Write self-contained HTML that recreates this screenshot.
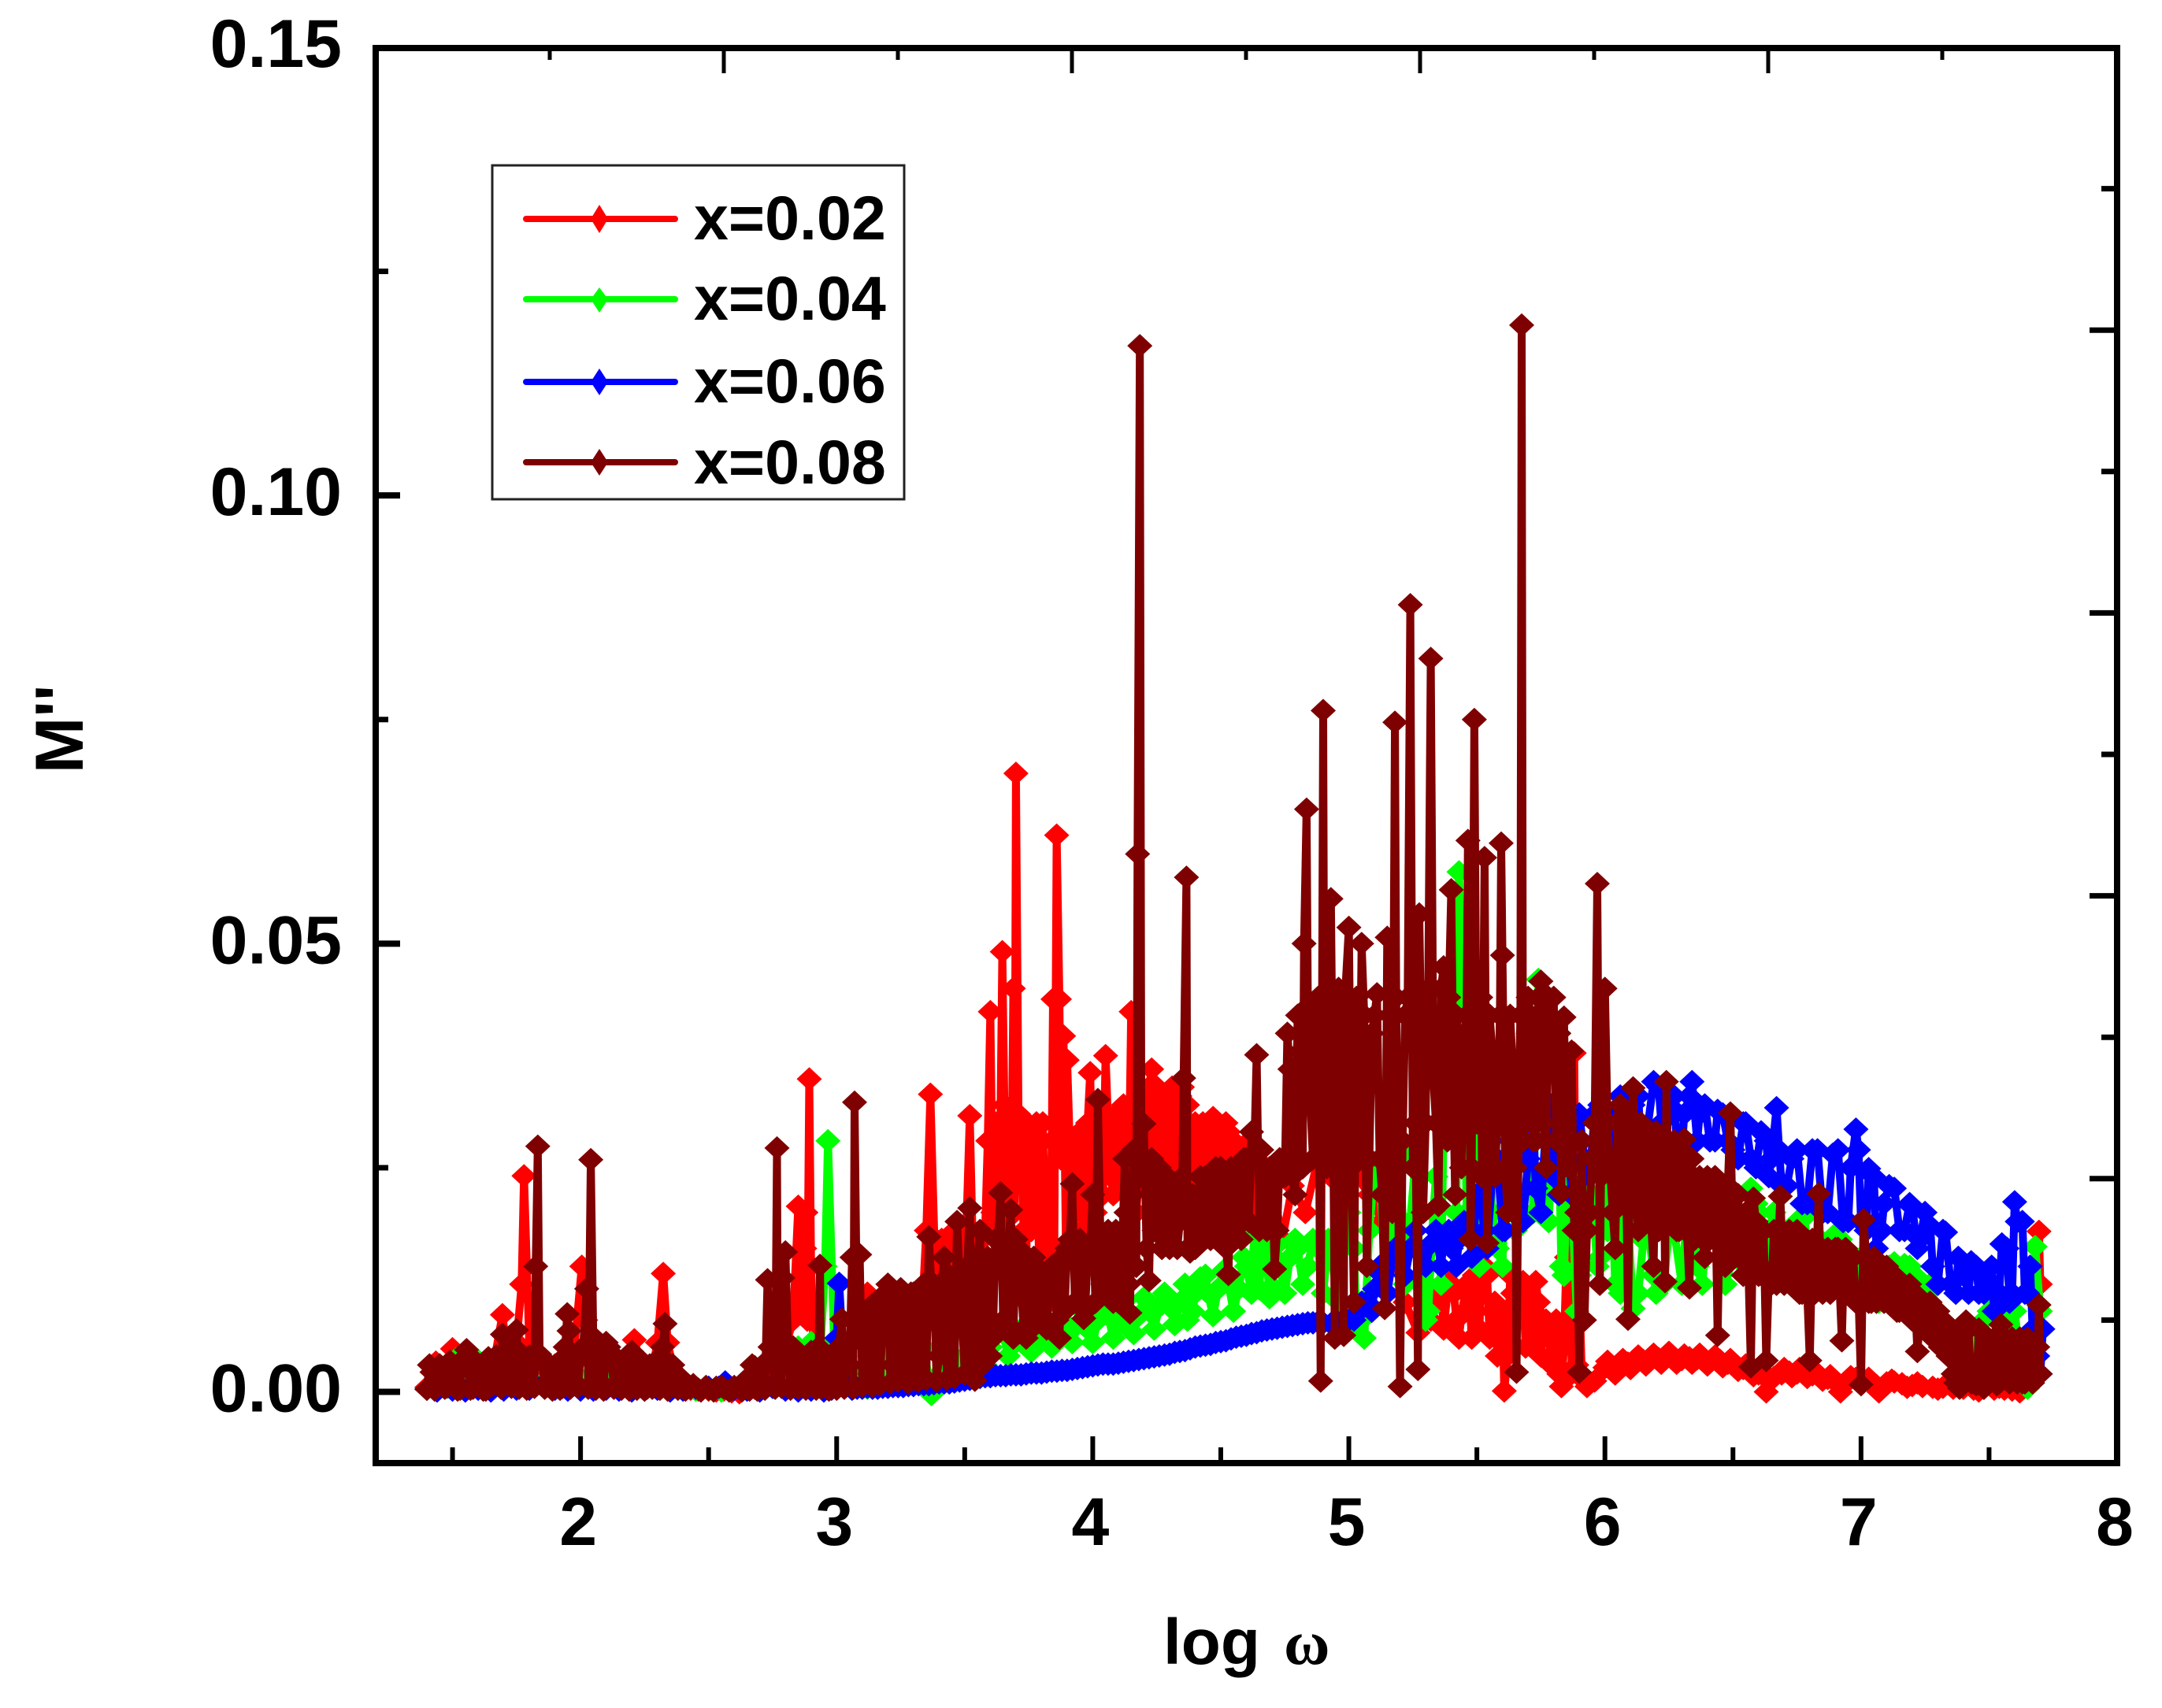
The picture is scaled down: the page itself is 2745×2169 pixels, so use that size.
<!DOCTYPE html>
<html>
<head>
<meta charset="utf-8">
<title>M'' vs log omega</title>
<style>
html,body{margin:0;padding:0;background:#fff;}
svg{display:block;}
text{font-family:"Liberation Sans",sans-serif;font-weight:bold;fill:#000;}
</style>
</head>
<body>
<svg id="chart" xmlns="http://www.w3.org/2000/svg" width="2745" height="2169" viewBox="0 0 2745 2169">
  <rect x="0" y="0" width="2745" height="2169" fill="#fff"/>
  <g id="series-layer"></g>
  <g id="axes-layer"></g>
  <text x="1477" y="2113" font-size="82">log<tspan x="1630" style="font-family:'Liberation Serif',serif" font-size="80">ω</tspan></text>
  <text transform="translate(105,926) rotate(-90)" text-anchor="middle" font-size="86">M''</text>
  <g>
    <rect x="625" y="210" width="523" height="424" fill="#fff" stroke="#222" stroke-width="3"/>
    <g>
      <line x1="668" x2="857" y1="278" y2="278" stroke="#ff0000" stroke-width="8" stroke-linecap="round"/>
      <polygon points="761,260 772,278 761,296 750,278" fill="#ff0000"/>
      <text x="881" y="304" font-size="79">x=0.02</text>
    </g>
    <g>
      <line x1="668" x2="857" y1="380" y2="380" stroke="#00ff00" stroke-width="8" stroke-linecap="round"/>
      <polygon points="761,365 772,380 761,397 750,380" fill="#00ff00"/>
      <text x="881" y="406" font-size="79">x=0.04</text>
    </g>
    <g>
      <line x1="668" x2="857" y1="485" y2="485" stroke="#0000ff" stroke-width="8" stroke-linecap="round"/>
      <polygon points="761,468 772,485 761,502 750,485" fill="#0000ff"/>
      <text x="881" y="511" font-size="79">x=0.06</text>
    </g>
    <g>
      <line x1="668" x2="857" y1="587" y2="587" stroke="#7f0000" stroke-width="8" stroke-linecap="round"/>
      <polygon points="761,570 772,587 761,604 750,587" fill="#7f0000"/>
      <text x="881" y="614" font-size="79">x=0.08</text>
    </g>
  </g>
</svg>
<script>
// Each point: [log omega, M'' in units of 10^-3]. Peaks and troughs.
const seriesX002 = [[1.40,.5],[1.435,3.3],[1.46,.8],[1.50,4.8],[1.53,1.5],[1.57,.5],[1.60,2.5],[1.63,.8],[1.66,3],[1.695,8.6],[1.72,2.5],[1.75,5.5],[1.77,12],[1.779,24.1],[1.80,5],[1.83,2],[1.87,1],[1.90,3],[1.94,1.5],[1.97,3],[2.005,14],[2.02,8],[2.05,5],[2.08,1.5],[2.11,3],[2.14,.8],[2.18,2],[2.21,5.8],[2.24,2.5],[2.27,.8],[2.30,5.5],[2.323,13.2],[2.34,5.5],[2.37,1.5],[2.40,.5],[2.43,.3],[2.46,.2],[2.50,.2],[2.53,.1],[2.56,.2],[2.59,0],[2.62,-.1],[2.65,.3],[2.68,.4],[2.71,1],[2.74,.8],[2.77,3],[2.80,5],[2.83,8],[2.85,20.7],[2.87,10],[2.88,20],[2.893,34.9],[2.91,4],[2.94,2],[2.97,1],[3.0,3],[3.03,2],[3.07,1],[3.10,2],[3.12,11],[3.13,4],[3.15,9],[3.17,3],[3.2,5],[3.25,10],[3.3,9],[3.33,7],[3.35,18],[3.366,33.2],[3.39,8],[3.42,16],[3.45,12],[3.48,18],[3.52,30.8],[3.54,12],[3.57,9],[3.59,28],[3.60,42.4],[3.62,14],[3.63,30],[3.647,49.1],[3.66,30],[3.68,20],[3.69,45],[3.70,69],[3.72,28],[3.74,10],[3.75,25],[3.77,29.5],[3.79,15],[3.81,24],[3.83,10],[3.845,43.8],[3.859,62.1],[3.87,43.8],[3.886,39.7],[3.90,37],[3.92,15],[3.94,28],[3.96,18],[3.99,35.6],[4.01,20],[4.03,25],[4.05,37.5],[4.07,24],[4.1,30],[4.13,22],[4.15,42.4],[4.17,20],[4.2,32],[4.23,36],[4.26,22],[4.29,33],[4.32,32],[4.35,34],[4.38,28],[4.41,22],[4.44,27],[4.47,30.6],[4.5,27],[4.53,29],[4.57,26],[4.61,28],[4.65,20.4],[4.69,25],[4.74,17],[4.78,23],[4.83,20],[4.88,26],[4.93,24],[4.98,27],[5.03,24],[5.08,22],[5.13,19],[5.18,15],[5.22,10],[5.27,6.6],[5.3,11],[5.34,10],[5.39,12.3],[5.42,8],[5.44,8.6],[5.47,11],[5.52,15.7],[5.54,13],[5.56,9],[5.59,7],[5.607,.1],[5.63,13],[5.66,11],[5.68,12.3],[5.71,10],[5.73,12.3],[5.76,8],[5.78,6.3],[5.81,8],[5.83,.6],[5.85,15],[5.86,37.4],[5.88,37.8],[5.9,12],[5.93,.6],[5.96,1.2],[6.0,2.7],[6.03,2.5],[6.06,3],[6.09,3.2],[6.12,3.4],[6.15,3.5],[6.18,3.6],[6.21,3.7],[6.24,3.9],[6.27,3.7],[6.3,3.6],[6.33,3.8],[6.36,3.7],[6.39,3.5],[6.42,3.7],[6.45,3.5],[6.48,3.2],[6.51,3],[6.54,2.6],[6.57,2.3],[6.6,2],[6.63,0],[6.66,1.6],[6.69,2],[6.72,2.2],[6.75,2.1],[6.78,2.1],[6.81,1.9],[6.84,1.7],[6.87,1.5],[6.92,0],[6.95,1.2],[6.98,1.5],[7.01,1.2],[7.04,1],[7.07,0],[7.1,1],[7.13,1.1],[7.16,.9],[7.2,.7],[7.24,.6],[7.28,.5],[7.32,.5],[7.36,.4],[7.4,.4],[7.44,.3],[7.48,.4],[7.52,.3],[7.56,.3],[7.59,.2],[7.62,0],[7.65,1],[7.67,4],[7.68,11.6],[7.695,17.9],[7.70,12]];

// Further readings inside the densely overlapping parts of the x=0.02 trace.
const denseX002 = [[2.86,9],[2.875,16],[2.885,8],[2.90,14],[3.41,17],[3.43,11],[3.46,18],[3.50,12],[3.53,18],[3.55,10],[3.58,18],[3.61,20],[3.625,30],[3.635,18],[3.655,32],[3.67,18],[3.685,30],[3.695,20],[3.71,31],[3.73,18],[3.745,30],[3.76,18],[3.78,30],[3.795,18],[3.805,30],[3.82,16],[3.84,28],[3.85,16],[3.875,26],[3.895,16],[3.91,28],[3.93,20],[3.95,29],[3.97,20],[3.98,30],[4.0,22],[4.02,30],[4.04,22],[4.06,30],[4.08,22],[4.09,31],[4.11,23],[4.12,32],[4.14,22],[4.16,30],[4.18,24],[4.19,34],[4.21,24],[4.22,34],[4.24,24],[4.25,34],[4.27,24],[4.28,33],[4.30,25],[4.31,34],[4.33,24],[4.34,33],[4.36,24],[4.37,32],[4.39,24],[4.40,30],[4.42,24],[4.43,30],[4.45,24],[4.46,30],[4.48,24],[4.49,30],[4.51,24],[4.52,30],[4.54,22],[4.55,28],[4.58,22],[4.60,27],[4.62,20],[4.64,26],[5.32,8],[5.36,12],[5.37,7],[5.41,11],[5.43,6],[5.46,12],[5.48,6],[5.49,13],[5.51,7],[5.53,14],[5.55,6],[5.57,10],[5.58,4],[5.60,9],[5.62,4],[5.64,11],[5.65,5],[5.67,11],[5.69,5],[5.70,11],[5.72,5],[5.74,10],[5.75,4],[5.77,8],[5.79,3],[5.80,7],[5.82,2],[5.84,5],[5.87,2],[5.89,3],[5.91,1.5],[6.01,3.4],[6.04,2],[6.07,3.6],[6.10,2.6],[6.13,4],[6.16,3],[6.19,4.2],[6.22,3.2],[6.25,4.4],[6.28,3.2],[6.31,4.1],[6.34,3.2],[6.37,4.2],[6.40,3],[6.43,4],[6.46,2.8],[6.49,3.6],[6.52,2.4],[6.55,3],[6.58,1.8],[6.61,2.4],[6.7,2.6],[6.73,1.7],[6.76,2.6],[6.79,1.6],[6.82,2.3],[6.85,1.3],[6.88,1.8],[6.9,1.1],[6.96,1.7],[7.0,1],[7.03,1.5],[7.06,.7],[7.12,1.3],[7.18,.5],[7.22,1],[7.3,.3],[7.38,.7],[7.46,.1],[7.54,.5]];

const seriesX004 = [[1.40,.3],[1.44,1.5],[1.48,.5],[1.515,3.7],[1.55,.5],[1.60,3.5],[1.64,.6],[1.68,2],[1.72,.8],[1.78,1.5],[1.83,.8],[1.90,1],[1.95,3.5],[2.0,1.5],[2.05,.6],[2.11,3.5],[2.13,2],[2.16,1],[2.22,.6],[2.30,1],[2.38,.4],[2.45,.2],[2.55,.1],[2.65,.2],[2.75,.5],[2.80,1],[2.85,5],[2.90,5.5],[2.93,1.5],[2.955,14],[2.966,28],[2.99,5.5],[3.02,1],[3.08,2],[3.12,.4],[3.16,2],[3.2,4],[3.24,4],[3.28,3.5],[3.34,5],[3.37,-.3],[3.4,2],[3.45,3],[3.5,4],[3.55,4.5],[3.6,5],[3.65,6.5],[3.7,5.5],[3.74,6],[3.78,5.5],[3.82,7],[3.86,6.5],[3.9,7],[3.94,7.5],[3.98,7],[4.02,8],[4.06,8.5],[4.10,7.5],[4.14,8.5],[4.18,8.5],[4.22,9],[4.26,9.5],[4.30,9.5],[4.34,10],[4.37,8],[4.40,11],[4.42,12.7],[4.45,11],[4.49,11.5],[4.53,12],[4.57,11.5],[4.6,14],[4.63,17.6],[4.65,11.5],[4.68,15],[4.7,11.8],[4.73,14],[4.77,15],[4.8,16],[4.84,14],[4.88,16],[4.92,17],[4.96,10],[5.0,20],[5.03,7],[5.06,6],[5.08,18],[5.12,25],[5.16,18],[5.2,27],[5.24,19],[5.28,12],[5.31,9],[5.34,24],[5.37,30],[5.4,46],[5.43,58],[5.45,40],[5.48,30],[5.5,18],[5.53,26],[5.56,20],[5.6,14],[5.63,25],[5.66,32],[5.70,40],[5.74,46],[5.77,35],[5.8,30],[5.83,14],[5.86,30],[5.89,9],[5.92,18],[5.95,22],[5.98,15],[6.01,18],[6.04,12],[6.07,20],[6.11,9.3],[6.15,16.9],[6.19,13],[6.23,12],[6.27,18],[6.32,20],[6.36,14],[6.4,19],[6.45,18],[6.5,15],[6.53,18],[6.57,22.7],[6.6,20],[6.64,18],[6.68,14],[6.72,17],[6.78,19.5],[6.82,15],[6.86,15],[6.9,17.6],[6.95,13],[7.0,15],[7.05,12],[7.09,11],[7.13,14.4],[7.17,14.2],[7.21,13],[7.25,11.5],[7.3,8.5],[7.35,6],[7.4,4],[7.44,7],[7.48,8],[7.53,8.6],[7.57,7],[7.6,9],[7.63,1.5],[7.65,.4],[7.67,5],[7.68,16.2],[7.70,9]];

const denseX004 = [[3.58,3],[3.62,6.5],[3.67,4],[3.72,7],[3.76,4.5],[3.8,7.5],[3.84,5],[3.88,8],[3.92,5.5],[3.96,9],[4.0,5.5],[4.04,9.5],[4.08,6],[4.12,10],[4.16,6.5],[4.2,10.5],[4.24,7],[4.28,11],[4.32,7.5],[4.36,12],[4.39,9],[4.44,13],[4.47,8.5],[4.51,13.5],[4.55,9],[4.59,15],[4.62,11],[4.66,16],[4.69,10.5],[4.72,16.5],[4.75,11],[4.79,17],[4.82,12],[4.86,17],[4.9,11],[5.02,16],[5.05,8],[5.1,25],[5.14,14],[5.18,28],[5.22,12],[5.26,26],[5.3,8],[5.33,20],[5.36,12],[5.39,30],[5.42,20],[5.44,45],[5.46,20],[5.49,28],[5.51,14],[5.55,30],[5.58,16],[5.62,34],[5.65,18],[5.68,36],[5.72,20],[5.75,38],[5.78,19],[5.82,28],[5.84,13],[5.87,22],[5.9,13],[5.93,24],[5.97,14],[6.0,24],[6.03,20],[6.06,11],[6.09,19],[6.13,11],[6.17,18],[6.2,11],[6.25,18],[6.3,12],[6.34,20],[6.38,12],[6.43,20],[6.47,12],[6.52,20],[6.55,14],[6.59,21],[6.62,13],[6.66,20],[6.7,13],[6.75,19],[6.8,13],[6.84,17],[6.88,12],[6.92,17],[6.97,11],[7.02,14],[7.07,10],[7.11,14],[7.15,10],[7.19,14],[7.23,10],[7.27,12],[7.32,7],[7.38,6],[7.42,7],[7.46,4],[7.5,9],[7.55,5],[7.58,9]];

const seriesX006 = [[1.40,.3],[1.44,.1],[1.5,.2],[1.55,.1],[1.6,.3],[1.65,.1],[1.7,.2],[1.75,.3],[1.8,.3],[1.85,.7],[1.9,.3],[1.95,.2],[2.0,.2],[2.05,.2],[2.1,.3],[2.15,.2],[2.2,.1],[2.25,.2],[2.3,.3],[2.35,.1],[2.4,.2],[2.45,.4],[2.5,.5],[2.54,.5],[2.565,1.1],[2.6,.3],[2.65,.2],[2.7,.1],[2.75,.5],[2.8,.2],[2.85,.1],[2.9,.2],[2.95,.1],[2.98,.3],[3.0,6],[3.01,12.1],[3.03,2],[3.06,.3],[3.1,.4],[3.14,.4],[3.18,.5],[3.22,.6],[3.26,.6],[3.3,.7],[3.34,.8],[3.38,.9],[3.42,1],[3.46,1.1],[3.5,1.3],[3.54,1.5],[3.58,1.7],[3.62,1.8],[3.66,1.8],[3.7,1.9],[3.74,2],[3.78,2.1],[3.82,2.2],[3.86,2.3],[3.9,2.4],[3.94,2.6],[3.98,2.8],[4.02,3],[4.06,3.1],[4.1,3.2],[4.14,3.4],[4.18,3.6],[4.22,3.8],[4.26,4],[4.3,4.2],[4.34,4.5],[4.38,4.8],[4.42,5.1],[4.46,5.3],[4.5,5.6],[4.54,5.9],[4.58,6.2],[4.62,6.5],[4.66,6.8],[4.7,7],[4.74,7.2],[4.78,7.4],[4.82,7.6],[4.86,7.7],[4.9,7.7],[4.96,7.7],[5.0,8],[5.04,9],[5.07,10],[5.1,11.5],[5.13,13],[5.17,14.7],[5.2,15],[5.24,16],[5.28,15.5],[5.32,16.5],[5.37,16.8],[5.4,16],[5.43,17],[5.47,18],[5.5,22],[5.53,18],[5.56,24],[5.6,18],[5.63,28],[5.66,22],[5.7,26],[5.73,22.7],[5.77,30],[5.8,24],[5.83,27],[5.88,29.8],[5.92,26],[5.96,31],[6.0,28],[6.04,31],[6.08,28],[6.11,32],[6.14,28],[6.19,34.6],[6.22,30],[6.25,32],[6.28,28],[6.31,31],[6.34,34.6],[6.37,31],[6.41,28],[6.44,31.4],[6.48,28],[6.52,26],[6.55,30],[6.59,25],[6.63,28],[6.65,26],[6.67,31.7],[6.69,23],[6.73,26],[6.77,21],[6.81,27],[6.85,20],[6.89,26.5],[6.93,19],[6.96,25],[6.98,29.3],[7.0,19],[7.03,24.9],[7.06,16],[7.09,21],[7.13,22.7],[7.17,18],[7.2,20.6],[7.23,17],[7.27,18.5],[7.3,12],[7.33,17.8],[7.37,11],[7.4,13],[7.43,14.5],[7.46,11],[7.49,12.7],[7.52,9],[7.55,16.5],[7.58,10],[7.6,21.2],[7.63,19],[7.65,11],[7.67,7],[7.69,4],[7.70,2],[7.71,7]];

const denseX006 = [[3.08,.4],[3.12,.5],[3.16,.4],[3.2,.5],[3.24,.6],[3.28,.7],[3.32,.8],[3.36,.8],[3.4,1],[3.44,1],[3.48,1.2],[3.52,1.4],[3.56,1.6],[3.6,1.7],[3.64,1.8],[3.68,1.9],[3.72,1.9],[3.76,2.1],[3.8,2.1],[3.84,2.3],[3.88,2.4],[3.92,2.5],[3.96,2.7],[4.0,2.9],[4.04,3.1],[4.08,3.1],[4.12,3.3],[4.16,3.5],[4.2,3.7],[4.24,3.9],[4.28,4.1],[4.32,4.4],[4.36,4.6],[4.4,5],[4.44,5.2],[4.48,5.5],[4.52,5.7],[4.56,6.1],[4.6,6.3],[4.64,6.6],[4.68,6.9],[4.72,7.1],[4.76,7.3],[4.8,7.5],[4.84,7.7],[4.88,7.8],[4.93,7.6],[4.98,7.9],[5.02,8],[5.05,10],[5.09,9],[5.12,14],[5.15,11],[5.18,16],[5.22,13],[5.26,18],[5.3,14],[5.34,18],[5.36,14],[5.39,18],[5.42,14],[5.45,19],[5.48,15],[5.51,22],[5.54,16],[5.58,26],[5.61,18],[5.64,30],[5.68,19],[5.72,30],[5.75,20],[5.79,32],[5.82,22],[5.85,30],[5.87,22],[5.9,31],[5.94,24],[5.98,32],[6.02,26],[6.06,33],[6.1,27],[6.13,33],[6.16,28],[6.21,34],[6.24,28],[6.27,33],[6.3,27],[6.33,33],[6.36,28],[6.39,32],[6.43,28],[6.46,31],[6.5,27],[6.54,30],[6.57,26],[6.61,29],[6.64,24],[6.68,27],[6.71,23],[6.75,27],[6.79,21],[6.83,27],[6.87,20],[6.91,27],[6.95,19],[6.99,27],[7.02,18],[7.05,24],[7.08,18],[7.11,23],[7.15,18],[7.19,21],[7.22,16],[7.25,20],[7.28,14],[7.32,18],[7.35,12],[7.38,15],[7.42,11],[7.45,14],[7.48,11],[7.51,14],[7.54,11],[7.57,16],[7.59,11],[7.61,19],[7.64,11],[7.66,14],[7.68,7]];

const seriesX008 = [[1.40,.3],[1.42,2.2],[1.44,.5],[1.46,2.5],[1.48,.6],[1.51,2],[1.53,.3],[1.555,4.7],[1.58,.4],[1.61,2.5],[1.63,.2],[1.66,3.5],[1.68,1.5],[1.695,6.4],[1.72,3],[1.75,6.9],[1.78,1.2],[1.81,3],[1.825,14],[1.833,27.4],[1.85,3.5],[1.87,1],[1.90,2],[1.93,.5],[1.948,8.7],[1.955,6.8],[1.98,1],[2.0,4],[2.024,11.5],[2.04,25.9],[2.055,6],[2.08,1],[2.10,5.5],[2.12,4],[2.15,1],[2.18,.5],[2.20,4.5],[2.23,1],[2.26,.4],[2.29,2],[2.33,7.6],[2.35,3],[2.37,1.5],[2.40,.8],[2.43,.4],[2.46,.3],[2.50,.3],[2.53,.5],[2.56,.4],[2.59,.2],[2.62,.4],[2.65,1],[2.67,3],[2.70,1.5],[2.73,12.5],[2.75,3],[2.767,27.2],[2.78,6],[2.79,12.7],[2.80,15.6],[2.83,5],[2.86,1.5],[2.89,4],[2.91,1],[2.935,14.1],[2.95,3],[2.98,.4],[3.02,8.1],[3.05,3],[3.06,15],[3.07,32.3],[3.09,15.3],[3.11,8],[3.13,2],[3.16,1],[3.18,9],[3.20,12],[3.22,3],[3.25,11.5],[3.27,1.5],[3.30,11],[3.31,1.3],[3.33,10],[3.36,17.3],[3.38,12],[3.40,4],[3.42,15],[3.45,12],[3.47,19],[3.49,8],[3.52,20.5],[3.54,1.3],[3.56,18],[3.58,10],[3.60,4],[3.62,17],[3.64,22.2],[3.66,7],[3.68,20.3],[3.70,17],[3.72,12],[3.74,6],[3.77,15],[3.80,8],[3.83,11],[3.85,13],[3.87,6],[3.90,16],[3.92,23.2],[3.94,10],[3.965,8.2],[3.98,15],[4.00,22],[4.02,32.6],[4.04,12],[4.07,17],[4.10,10],[4.125,26],[4.145,8.8],[4.16,27],[4.175,60],[4.184,116.7],[4.20,29.9],[4.22,12.4],[4.25,25],[4.28,17],[4.31,21],[4.34,19],[4.355,35],[4.366,57.4],[4.38,15.6],[4.41,22],[4.44,24],[4.47,20],[4.50,25],[4.53,13.1],[4.56,23],[4.59,26],[4.62,29],[4.64,37.6],[4.66,27],[4.69,20],[4.71,13.7],[4.74,24],[4.77,36],[4.79,22],[4.81,38],[4.825,50],[4.835,65],[4.85,32],[4.87,42],[4.89,1.2],[4.90,76],[4.915,25],[4.93,55],[4.945,6],[4.96,45],[4.98,6.3],[5.0,51.8],[5.02,10],[5.035,42],[5.05,50],[5.07,14],[5.09,40],[5.11,44.4],[5.13,22],[5.14,9.3],[5.15,50.7],[5.17,20],[5.18,74.7],[5.19,30],[5.2,.6],[5.22,42],[5.24,87.8],[5.25,25],[5.27,2.5],[5.275,53.3],[5.29,20],[5.305,42],[5.32,81.8],[5.33,35],[5.35,20.8],[5.37,47.4],[5.385,28],[5.40,56],[5.415,22],[5.43,38],[5.45,40],[5.465,61.5],[5.475,17],[5.49,75],[5.50,30],[5.515,44],[5.53,59.6],[5.54,16.6],[5.56,38],[5.58,30],[5.595,61.2],[5.60,48.7],[5.62,20],[5.64,36],[5.655,2.2],[5.665,35],[5.675,119],[5.69,30],[5.71,42],[5.73,28],[5.75,45.8],[5.77,25],[5.79,40],[5.80,44],[5.83,22.2],[5.84,41.8],[5.86,25],[5.88,18],[5.90,2.2],[5.92,8],[5.94,20],[5.96,30],[5.97,56.7],[5.98,12],[5.99,30],[6.0,45],[6.02,25],[6.04,16],[6.06,32],[6.09,8.1],[6.10,28],[6.11,33.9],[6.13,18],[6.16,25],[6.19,14],[6.22,26],[6.235,12.3],[6.24,34.6],[6.26,20],[6.29,18],[6.31,28.2],[6.33,11.6],[6.36,20],[6.39,15],[6.42,18],[6.44,6.3],[6.45,22.4],[6.47,14],[6.49,31.1],[6.51,17],[6.54,13],[6.57,2.8],[6.58,21.6],[6.60,13],[6.63,3.5],[6.65,12],[6.685,21.8],[6.71,13],[6.74,14],[6.77,11],[6.80,3.5],[6.835,22.1],[6.86,12],[6.9,16],[6.925,5.7],[6.95,11],[6.98,10],[7.0,.8],[7.01,19.2],[7.04,10],[7.08,13.1],[7.11,10],[7.14,9],[7.18,9.5],[7.22,4.5],[7.25,8],[7.29,7.5],[7.33,6],[7.36,2],[7.385,.4],[7.41,7.9],[7.43,1],[7.45,.8],[7.48,.4],[7.51,4],[7.53,.8],[7.546,7.5],[7.57,1.5],[7.60,5],[7.63,1],[7.66,4],[7.68,2],[7.695,9.7],[7.70,2]];

const denseX008 = [[1.41,3],[1.43,.2],[1.45,3],[1.47,.4],[1.49,3.4],[1.52,.2],[1.54,3.6],[1.57,.3],[1.59,3.4],[1.62,.2],[1.64,3.8],[1.65,.6],[1.67,4],[1.69,.4],[1.71,4.5],[1.73,.5],[1.74,5],[1.76,.4],[1.77,4.2],[1.79,.3],[1.80,4],[1.82,.5],[1.84,4.2],[1.86,.4],[1.88,3],[1.89,.2],[1.91,3.2],[1.92,.3],[1.94,5],[1.96,.4],[1.97,3.4],[1.99,.5],[2.01,5],[2.03,.4],[2.05,5],[2.06,.3],[2.07,4.4],[2.09,.2],[2.11,5],[2.13,.4],[2.14,3.8],[2.16,.3],[2.17,3],[2.19,.2],[2.21,3.8],[2.22,.3],[2.24,3.4],[2.25,.2],[2.27,3],[2.28,.4],[2.30,3.6],[2.31,.3],[2.32,5],[2.34,.2],[2.36,3],[2.38,.3],[2.39,1.6],[2.41,.2],[2.44,.8],[2.47,.1],[2.49,.6],[2.52,.1],[2.55,.6],[2.58,.1],[2.60,.6],[2.63,.1],[2.64,1.2],[2.66,.2],[2.68,2.8],[2.69,.2],[2.71,3],[2.72,.3],[2.74,5],[2.76,.4],[2.77,6],[2.785,.5],[2.81,5],[2.82,.3],[2.84,4.2],[2.85,.4],[2.87,3.8],[2.88,.3],[2.90,4.5],[2.92,.3],[2.93,5],[2.94,.4],[2.96,4],[2.97,.2],[2.99,3.5],[3.0,.3],[3.01,5],[3.03,.4],[3.04,5.5],[3.065,.4],[3.08,6],[3.10,.6],[3.12,9],[3.14,.6],[3.15,10],[3.17,.8],[3.19,11],[3.21,1],[3.23,11],[3.24,1.2],[3.26,11],[3.28,1],[3.29,11],[3.32,1.2],[3.34,12],[3.35,1.4],[3.37,12],[3.39,1.2],[3.41,12],[3.43,1.4],[3.44,13],[3.46,1.6],[3.48,13],[3.50,2],[3.51,14],[3.53,2],[3.55,15],[3.57,3],[3.59,15],[3.61,6],[3.63,17],[3.65,8],[3.67,16],[3.69,6],[3.71,16],[3.73,7],[3.75,14],[3.76,7],[3.78,14],[3.79,8],[3.81,13],[3.82,7],[3.84,14],[3.86,8],[3.88,15],[3.89,9],[3.91,17],[3.93,10],[3.95,17],[3.97,9],[3.99,16],[4.01,10],[4.03,17],[4.05,11],[4.06,18],[4.08,10],[4.09,18],[4.11,11],[4.13,20],[4.14,12],[4.155,22],[4.17,14],[4.19,24],[4.21,16],[4.23,26],[4.24,18],[4.26,25],[4.27,16],[4.29,24],[4.30,16],[4.32,23],[4.33,16],[4.35,24],[4.37,16],[4.39,22],[4.40,16],[4.42,24],[4.43,17],[4.45,24],[4.46,17],[4.48,25],[4.49,18],[4.51,24],[4.52,16],[4.54,25],[4.55,18],[4.57,25],[4.58,17],[4.60,26],[4.61,19],[4.63,26],[4.65,18],[4.67,25],[4.68,18],[4.70,25],[4.72,18],[4.73,26],[4.75,24],[4.76,40],[4.78,24],[4.80,42],[4.82,25],[4.84,43],[4.86,26],[4.88,44],[4.905,26],[4.92,44],[4.94,25],[4.95,44],[4.97,26],[4.985,44],[5.01,25],[5.03,44],[5.04,26],[5.06,42],[5.08,26],[5.10,42],[5.12,26],[5.16,42],[5.165,28],[5.185,44],[5.21,28],[5.23,44],[5.26,30],[5.28,44],[5.30,30],[5.31,45],[5.34,30],[5.36,45],[5.38,30],[5.39,44],[5.41,30],[5.42,42],[5.44,25],[5.46,42],[5.48,25],[5.51,44],[5.52,24],[5.55,42],[5.57,24],[5.59,42],[5.61,25],[5.63,42],[5.65,25],[5.67,42],[5.68,28],[5.70,44],[5.72,28],[5.74,44],[5.76,30],[5.78,44],[5.81,28],[5.82,40],[5.85,27],[5.87,38],[5.89,20],[5.91,28],[5.93,18],[5.95,26],[5.985,24],[6.01,30],[6.03,20],[6.05,30],[6.07,21],[6.08,31],[6.12,22],[6.14,30],[6.15,20],[6.17,29],[6.18,19],[6.20,29],[6.21,18],[6.23,28],[6.25,19],[6.27,28],[6.28,18],[6.30,27],[6.32,18],[6.34,26],[6.35,17],[6.37,24],[6.38,17],[6.40,24],[6.41,17],[6.43,24],[6.46,18],[6.48,23],[6.50,16],[6.52,22],[6.53,15],[6.55,20],[6.56,14],[6.59,19],[6.61,14],[6.62,18],[6.64,13],[6.66,18],[6.67,12],[6.69,18],[6.70,12],[6.72,18],[6.73,12],[6.75,18],[6.76,11],[6.78,17],[6.79,11],[6.81,17],[6.82,11],[6.84,16],[6.85,11],[6.87,16],[6.88,11],[6.91,16],[6.93,11],[6.94,16],[6.96,11],[6.97,15],[6.99,11],[7.02,15],[7.03,10],[7.05,15],[7.06,10],[7.07,14],[7.09,10],[7.10,14],[7.12,10],[7.13,13],[7.15,9],[7.16,12],[7.17,9],[7.19,12],[7.20,8],[7.21,11],[7.23,8],[7.24,10],[7.26,7],[7.27,10],[7.28,6],[7.30,9],[7.31,5],[7.32,8],[7.34,4],[7.35,7],[7.37,1],[7.38,7],[7.40,1],[7.42,7],[7.44,1],[7.46,7],[7.47,1],[7.49,6],[7.50,1],[7.52,6],[7.54,1],[7.56,6],[7.58,1],[7.59,6],[7.61,1],[7.62,6],[7.64,1],[7.65,6],[7.67,1],[7.69,5]];

const seriesNames = ['x002', 'x004', 'x006', 'x008'];
const seriesColors = ['#ff0000', '#00ff00', '#0000ff', '#7f0000'];
const xTickLabels = ['2', '3', '4', '5', '6', '7', '8'];
const xMinorValues = [1.5, 2.5, 3.5, 4.5, 5.5, 6.5, 7.5];
const yTickLabels = ['0.00', '0.05', '0.10', '0.15'];
const yMinorValues = [25, 75, 125];

const NS = 'http://www.w3.org/2000/svg';
const plot = {left: 477, right: 2688, top: 60, bottom: 1858};
const xDomain = [1.2, 8];
const yDomain = [-7.95, 150];
function xScale(v) {
  return plot.left + (v - xDomain[0]) / (xDomain[1] - xDomain[0]) * (plot.right - plot.left);
}
function yScale(v) {
  return plot.bottom - (v - yDomain[0]) / (yDomain[1] - yDomain[0]) * (plot.bottom - plot.top);
}
function mergeByOmega(a, b) {
  return a.concat(b).sort(function (p, q) { return p[0] - q[0]; });
}

const seriesLayer = document.getElementById('series-layer');
const allSeries = [
  mergeByOmega(seriesX002, denseX002),
  mergeByOmega(seriesX004, denseX004),
  mergeByOmega(seriesX006, denseX006),
  mergeByOmega(seriesX008, denseX008)
];
allSeries.forEach(function (points, s) {
  const g = document.createElementNS(NS, 'g');
  
  
  const line = document.createElementNS(NS, 'polyline');
  
  
  line.setAttribute('points', points.map(function (p) {
    return xScale(p[0]).toFixed(1) + ',' + yScale(p[1]).toFixed(1);
  }).join(' '));
  line.setAttribute('fill', 'none');
  line.setAttribute('stroke', seriesColors[s]);
  line.setAttribute('stroke-width', '10');
  line.setAttribute('stroke-linejoin', 'bevel');
  g.appendChild(line);
  points.forEach(function (p, i) {
    const cx = xScale(p[0]);
    const cy = yScale(p[1]);
    const m = document.createElementNS(NS, 'polygon');
    
    
    m.setAttribute('points', [
      cx.toFixed(1) + ',' + (cy - 15).toFixed(1),
      (cx + 16).toFixed(1) + ',' + cy.toFixed(1),
      cx.toFixed(1) + ',' + (cy + 15).toFixed(1),
      (cx - 16).toFixed(1) + ',' + cy.toFixed(1)
    ].join(' '));
    m.setAttribute('fill', seriesColors[s]);
    g.appendChild(m);
  });
  seriesLayer.appendChild(g);
});

const axesLayer = document.getElementById('axes-layer');
function addTick(name, x1, y1, x2, y2, w) {
  const t = document.createElementNS(NS, 'line');
  
  
  t.setAttribute('x1', x1);
  t.setAttribute('y1', y1);
  t.setAttribute('x2', x2);
  t.setAttribute('y2', y2);
  t.setAttribute('stroke', '#000');
  t.setAttribute('stroke-width', w);
  axesLayer.appendChild(t);
}
function addLabel(name, str, x, y, anchor) {
  const t = document.createElementNS(NS, 'text');
  
  
  t.setAttribute('x', x);
  t.setAttribute('y', y);
  t.setAttribute('font-size', '86');
  t.setAttribute('text-anchor', anchor);
  t.textContent = str;
  axesLayer.appendChild(t);
}

const frame = document.createElementNS(NS, 'path');


frame.setAttribute('d', 'M477 1858H2688V61H477Z');
frame.setAttribute('fill', 'none');
frame.setAttribute('stroke', '#000');
frame.setAttribute('stroke-width', '8');
axesLayer.appendChild(frame);

xTickLabels.forEach(function (label) {
  const v = Number(label);
  const px = xScale(v);
  if (v < 8) addTick('x-major-tick-' + label, px, plot.bottom, px, plot.bottom - 34, 6);
  addLabel('x-tick-label-' + label, label, px - 3, 1962, 'middle');
});
xMinorValues.forEach(function (v) {
  addTick('x-minor-tick-' + v, xScale(v), plot.bottom, xScale(v), plot.bottom - 20, 6);
});
yTickLabels.forEach(function (label) {
  const v = Number(label) * 1000;
  const py = yScale(v);
  if (v < 150) addTick('y-major-tick-' + label, plot.left, py, plot.left + 31, py, 8);
  addLabel('y-tick-label-' + label, label, 434, py + 25, 'end');
});
yMinorValues.forEach(function (v) {
  addTick('y-minor-tick-' + v, plot.left, yScale(v), plot.left + 16, yScale(v), 7);
});
for (let k = 0; k < 9; k++) {
  const px = 698 + 221 * k;
  addTick('top-tick-' + k, px, 61, px, k % 2 ? 93 : 76, 5);
}
for (let k = 1; k < 10; k++) {
  const py = 60 + 179.6 * k;
  addTick('right-tick-' + k, 2688, py, k % 2 ? 2668 : 2653, py, 7);
}
</script>
</body>
</html>
